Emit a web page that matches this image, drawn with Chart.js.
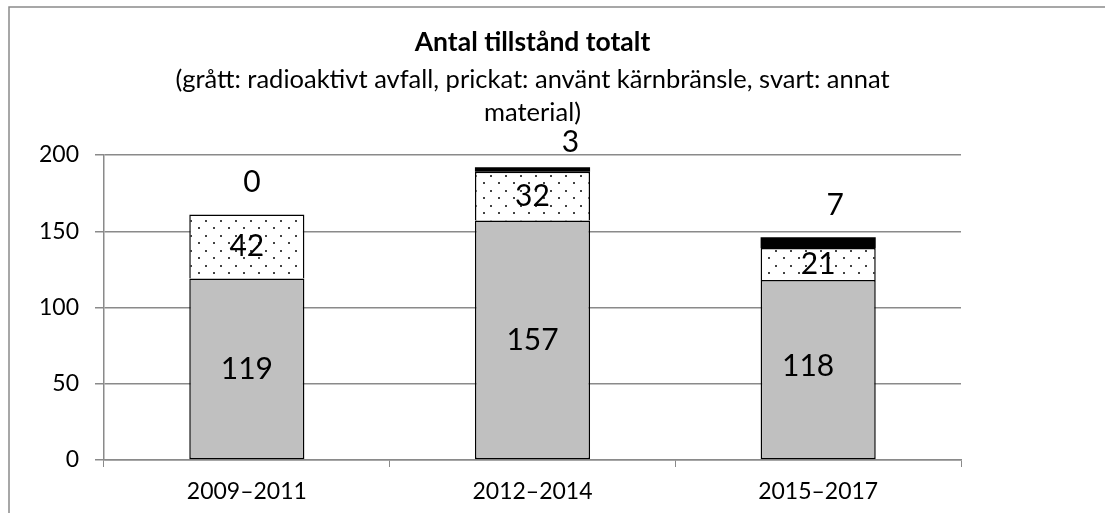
<!DOCTYPE html>
<html>
<head>
<meta charset="utf-8">
<script src="https://cdn.jsdelivr.net/npm/chart.js@4"></script>
<style>
    html, body { margin: 0; padding: 0; background: #fff; }
    #wrap { width: 1105px; height: 513px; }
</style>
</head>
<body>
<div id="wrap"><canvas id="tillstand-graph" width="1105" height="513"></canvas></div>
<script>
const categories = ['2009–2011', '2012–2014', '2015–2017'];
const radioaktivt = [119, 157, 118];   // grått
const karnbransle = [42, 32, 21];      // prickat
const annat = [0, 3, 7];               // svart
const yTicks = [0, 50, 100, 150, 200];

const titleText = 'Antal tillstånd totalt';
const subtitleLines = ['(grått: radioaktivt avfall, prickat: använt kärnbränsle, svart: annat', 'material)'];

// where the labels of the black segment sit, relative to the bar top
const blackLabelShift = [[5, -32], [38, -25], [17, -32]];
const greyLabelShift = [[0, 0], [0, 0], [-10, -3]];

const FONT = 'Lato, "Open Sans", sans-serif';

(function() {
    const canvas = document.getElementById('tillstand-graph');
    const ctx = canvas.getContext('2d');

    // dotted fill
    const tile = document.createElement('canvas');
    tile.width = 15;
    tile.height = 15;
    const t = tile.getContext('2d');
    t.fillStyle = '#fff';
    t.fillRect(0, 0, 15, 15);
    t.fillStyle = '#444';
    t.fillRect(3, 2, 2, 2);
    t.fillRect(10, 10, 2, 2);
    const dotted = ctx.createPattern(tile, 'repeat');

    const frame = {
        id: 'frame',
        beforeDraw(chart) {
            const c = chart.ctx;
            c.save();
            c.strokeStyle = '#8a8a8a';
            c.lineWidth = 1.5;
            c.beginPath();
            c.moveTo(9, 513);
            c.lineTo(9, 7);
            c.lineTo(1105, 7);
            c.stroke();
            c.restore();
        }
    };

    const titles = {
        id: 'titles',
        afterDraw(chart) {
            const c = chart.ctx;
            const area = chart.chartArea;
            const cx = (area.left + area.right) / 2;
            c.save();
            c.fillStyle = '#000';
            c.textAlign = 'center';
            c.textBaseline = 'middle';
            c.font = 'bold 26.5px ' + FONT;
            c.fillText(titleText, cx, 42);
            c.font = '25.5px ' + FONT;
            subtitleLines.forEach((line, i) => c.fillText(line, cx, 80 + i * 33));
            c.restore();
        }
    };

    const labels = {
        id: 'labels',
        afterDatasetsDraw(chart) {
            const c = chart.ctx;
            c.save();
            c.fillStyle = '#000';
            c.textAlign = 'center';
            c.textBaseline = 'middle';
            c.font = '30px ' + FONT;
            chart.data.datasets.forEach((ds, di) => {
                const meta = chart.getDatasetMeta(di);
                meta.data.forEach((bar, i) => {
                    const v = ds.data[i];
                    let x = bar.x;
                    let y = (bar.y + bar.base) / 2;
                    if (di === 0) {
                        x += greyLabelShift[i][0];
                        y += greyLabelShift[i][1];
                    }
                    if (di === 2) {
                        x += blackLabelShift[i][0];
                        y = bar.y + blackLabelShift[i][1];
                    }
                    c.fillText(String(v), x, y);
                });
            });
            c.restore();
        }
    };

    new Chart(ctx, {
        type: 'bar',
        data: {
            labels: categories,
            datasets: [{
                label: 'radioaktivt avfall',
                data: radioaktivt,
                backgroundColor: '#c0c0c0',
                borderColor: '#000',
                borderWidth: 1.5,
                borderSkipped: false
            }, {
                label: 'använt kärnbränsle',
                data: karnbransle,
                backgroundColor: dotted,
                borderColor: '#000',
                borderWidth: 1.5,
                borderSkipped: 'start'
            }, {
                label: 'annat material',
                data: annat,
                backgroundColor: '#000',
                borderWidth: 0
            }]
        },
        options: {
            responsive: false,
            animation: false,
            barPercentage: 0.403,
            categoryPercentage: 1,
            layout: {
                padding: { top: 155, right: 144, bottom: 0, left: 0 }
            },
            scales: {
                x: {
                    stacked: true,
                    afterFit: s => { s.height = 53; },
                    grid: {
                        offset: true,
                        drawOnChartArea: false,
                        drawTicks: true,
                        tickLength: 7,
                        color: '#8a8a8a'
                    },
                    border: { color: '#8a8a8a', width: 1.5 },
                    ticks: {
                        color: '#000',
                        padding: 11,
                        font: { family: FONT, size: 23 }
                    }
                },
                y: {
                    stacked: true,
                    min: 0,
                    max: 200,
                    afterFit: s => { s.width = 104; },
                    afterBuildTicks: s => { s.ticks = yTicks.map(v => ({ value: v })); },
                    grid: {
                        color: '#8a8a8a',
                        lineWidth: 1.5,
                        tickLength: 9
                    },
                    border: { color: '#8a8a8a', width: 1.5 },
                    ticks: {
                        color: '#000',
                        padding: 16,
                        font: { family: FONT, size: 23 }
                    }
                }
            },
            plugins: {
                legend: { display: false },
                tooltip: { enabled: false }
            }
        },
        plugins: [frame, titles, labels]
    });
})();
</script>
</body>
</html>
